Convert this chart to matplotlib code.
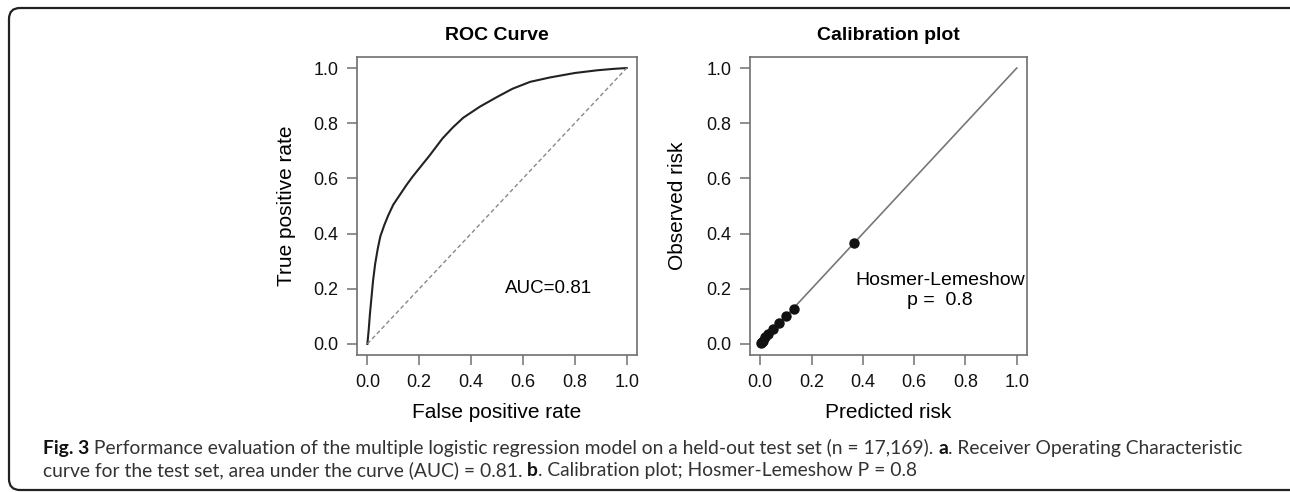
import matplotlib
matplotlib.use("Agg")
import matplotlib.pyplot as plt
from matplotlib.patches import FancyBboxPatch

# ROC curve
roc_fpr = [0.0, 0.005, 0.01, 0.016, 0.022, 0.03, 0.04, 0.05, 0.065, 0.08, 0.1,
           0.125, 0.15, 0.175, 0.21, 0.24, 0.29, 0.33, 0.37, 0.434, 0.5, 0.56,
           0.628, 0.705, 0.8, 0.888, 0.95, 1.0]
roc_tpr = [0.0, 0.05, 0.11, 0.17, 0.23, 0.29, 0.345, 0.39, 0.43, 0.465, 0.505,
           0.54, 0.575, 0.607, 0.648, 0.683, 0.745, 0.785, 0.82, 0.86, 0.895, 0.925,
           0.95, 0.966, 0.982, 0.992, 0.997, 1.0]
auc_label = "AUC=0.81"

# calibration deciles
pred_risk = [0.004, 0.007, 0.01, 0.019, 0.031, 0.051, 0.074, 0.101, 0.132, 0.366]
obs_risk = [0.004, 0.007, 0.011, 0.025, 0.036, 0.054, 0.076, 0.101, 0.126, 0.365]
hl_label = "Hosmer-Lemeshow\np =  0.8"

ticks = [0.0, 0.2, 0.4, 0.6, 0.8, 1.0]
tick_labels = ["0.0", "0.2", "0.4", "0.6", "0.8", "1.0"]

caption_lines = [
    [("Fig. 3", "bold"),
     (" Performance evaluation of the multiple logistic regression model on a held-out test set (n = 17,169). ", "normal"),
     ("a", "bold"),
     (". Receiver Operating Characteristic", "normal")],
    [("curve for the test set, area under the curve (AUC) = 0.81. ", "normal"),
     ("b", "bold"),
     (". Calibration plot; Hosmer-Lemeshow P = 0.8", "normal")],
]

plt.rcParams["font.family"] = ["Liberation Sans", "DejaVu Sans"]

W, H = 1290, 492
fig = plt.figure(figsize=(W / 100, H / 100), dpi=100)

# page frame, drawn in pixel units on a blank overlay
bg = fig.add_axes([0, 0, 1, 1])
bg.set_xlim(0, W)
bg.set_ylim(H, 0)
bg.axis("off")
bg.add_patch(FancyBboxPatch((9, 8), 1320, 482,
                            boxstyle="round,pad=0,rounding_size=11",
                            fill=False, edgecolor="#222222", linewidth=1.6))


def style_axes(ax):
    ax.set_xlim(-0.04, 1.04)
    ax.set_ylim(-0.04, 1.04)
    ax.set_xticks(ticks)
    ax.set_yticks(ticks)
    ax.set_xticklabels(tick_labels)
    ax.set_yticklabels(tick_labels)
    for s in ax.spines.values():
        s.set_color("#707070")
        s.set_linewidth(1.2)
    ax.tick_params(direction="out", length=7.5, width=1.1, color="#707070",
                   labelsize=13, pad=6, labelcolor="#111111")


ax1 = fig.add_axes([357 / W, 1 - 355 / H, 280 / W, 298 / H])
style_axes(ax1)
ax1.plot(roc_fpr, roc_tpr, color="#222222", linewidth=1.5)
ax1.plot([0, 1], [0, 1], color="#888888", linewidth=1.0, linestyle=(0, (3, 2)))
ax1.text(0.7, 0.2, auc_label, ha="center", va="center", fontsize=13.5)
ax1.set_title("ROC Curve", fontsize=14, fontweight="bold", pad=12)
ax1.set_xlabel("False positive rate", fontsize=15, labelpad=9)
ax1.set_ylabel("True positive rate", fontsize=15, labelpad=12)

ax2 = fig.add_axes([750 / W, 1 - 355 / H, 277 / W, 298 / H])
style_axes(ax2)
ax2.plot([0, 1], [0, 1], color="#777777", linewidth=1.2)
ax2.plot(pred_risk, obs_risk, "o", color="#111111", markersize=6.5)
ax2.text(0.7, 0.195, hl_label, ha="center", va="center", fontsize=14,
         linespacing=1.25)
ax2.set_title("Calibration plot", fontsize=14, fontweight="bold", pad=12)
ax2.set_xlabel("Predicted risk", fontsize=15, labelpad=9)
ax2.set_ylabel("Observed risk", fontsize=15, labelpad=14)

# caption, pieced together so that bold and normal runs share one baseline
renderer = fig.canvas.get_renderer()
cap_font = ["Lato", "DejaVu Sans"]
cap_size = 13.9


def advance(txt, weight):
    probe = fig.text(0, 0, txt + "|", fontsize=cap_size, fontweight=weight, family=cap_font)
    bar = fig.text(0, 0, "|", fontsize=cap_size, fontweight=weight, family=cap_font)
    w = probe.get_window_extent(renderer).width - bar.get_window_extent(renderer).width
    probe.remove()
    bar.remove()
    return w


for i, line in enumerate(caption_lines):
    x = 43
    y = 454 + i * 22
    for txt, weight in line:
        color = "#111111" if weight == "bold" else "#333333"
        fig.text(x / W, 1 - y / H, txt, fontsize=cap_size, fontweight=weight,
                 family=cap_font, color=color, va="baseline", ha="left")
        x += advance(txt, weight)

fig.savefig("out.png", dpi=100)
